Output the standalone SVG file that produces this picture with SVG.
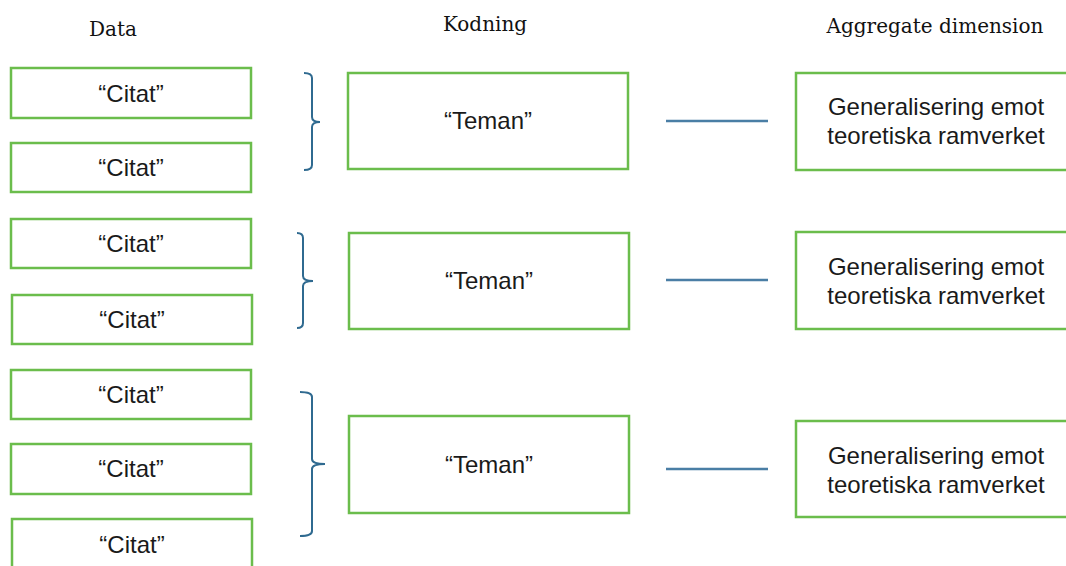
<svg xmlns="http://www.w3.org/2000/svg" width="1066" height="566" viewBox="0 0 1066 566">
<style>
.box{fill:#fff;stroke:#6bbd4c;stroke-width:2.5}
.t{font-family:"Liberation Sans",Arial,sans-serif;font-size:24px;fill:#1a1a1a;text-anchor:middle}
.h{font-family:"DejaVu Serif","Liberation Serif",serif;font-size:20px;fill:#111;text-anchor:middle}
.br{fill:none;stroke:#2f6a90;stroke-width:2}
.ln{stroke:#4a7ea5;stroke-width:2.5}
</style>
<rect width="1066" height="566" fill="#fff"/>
<g id="headers">
<text class="h" x="113" y="36">Data</text>
<text class="h" x="485" y="31">Kodning</text>
<text class="h" x="935" y="33">Aggregate dimension</text>
</g>
<g id="citat1"><rect class="box" x="11" y="68" width="240" height="50"/><text class="t" x="131" y="102">“Citat”</text></g>
<g id="citat2"><rect class="box" x="11" y="143" width="240" height="49"/><text class="t" x="131" y="176">“Citat”</text></g>
<g id="citat3"><rect class="box" x="11" y="219" width="240" height="49"/><text class="t" x="131" y="252">“Citat”</text></g>
<g id="citat4"><rect class="box" x="12" y="295" width="240" height="49"/><text class="t" x="132" y="328">“Citat”</text></g>
<g id="citat5"><rect class="box" x="11" y="370" width="240" height="49"/><text class="t" x="131" y="403">“Citat”</text></g>
<g id="citat6"><rect class="box" x="11" y="444" width="240" height="50"/><text class="t" x="131" y="477">“Citat”</text></g>
<g id="citat7"><rect class="box" x="12" y="519" width="240" height="60"/><text class="t" x="132" y="553">“Citat”</text></g>
<g id="teman1"><rect class="box" x="348" y="73" width="280" height="96"/><text class="t" x="488" y="129">“Teman”</text></g>
<g id="teman2"><rect class="box" x="349" y="233" width="280" height="96"/><text class="t" x="489" y="289">“Teman”</text></g>
<g id="teman3"><rect class="box" x="349" y="416" width="280" height="97"/><text class="t" x="489" y="473">“Teman”</text></g>
<g id="agg1"><rect class="box" x="796" y="73" width="290" height="97"/><text class="t" x="936" y="115">Generalisering emot</text><text class="t" x="936" y="144">teoretiska ramverket</text></g>
<g id="agg2"><rect class="box" x="796" y="232" width="290" height="97"/><text class="t" x="936" y="275">Generalisering emot</text><text class="t" x="936" y="304">teoretiska ramverket</text></g>
<g id="agg3"><rect class="box" x="796" y="421" width="290" height="96"/><text class="t" x="936" y="464">Generalisering emot</text><text class="t" x="936" y="493">teoretiska ramverket</text></g>
<g id="connectors">
<path class="br" d="M304,73 Q312,73 312,78 L312,117 Q312,122 320,122 Q312,122 312,127 L312,165 Q312,170 304,170"/>
<path class="br" d="M297,233 Q303,233 303,238 L303,276 Q303,281 313,281 Q303,281 303,286 L303,323 Q303,328 297,328"/>
<path class="br" d="M300,392 Q312,392 312,397 L312,459 Q312,464 325,464 Q312,464 312,469 L312,531 Q312,536 300,536"/>
<line class="ln" x1="666" y1="121" x2="768" y2="121"/>
<line class="ln" x1="666" y1="280" x2="768" y2="280"/>
<line class="ln" x1="666" y1="469" x2="768" y2="469"/>
</g>
</svg>
